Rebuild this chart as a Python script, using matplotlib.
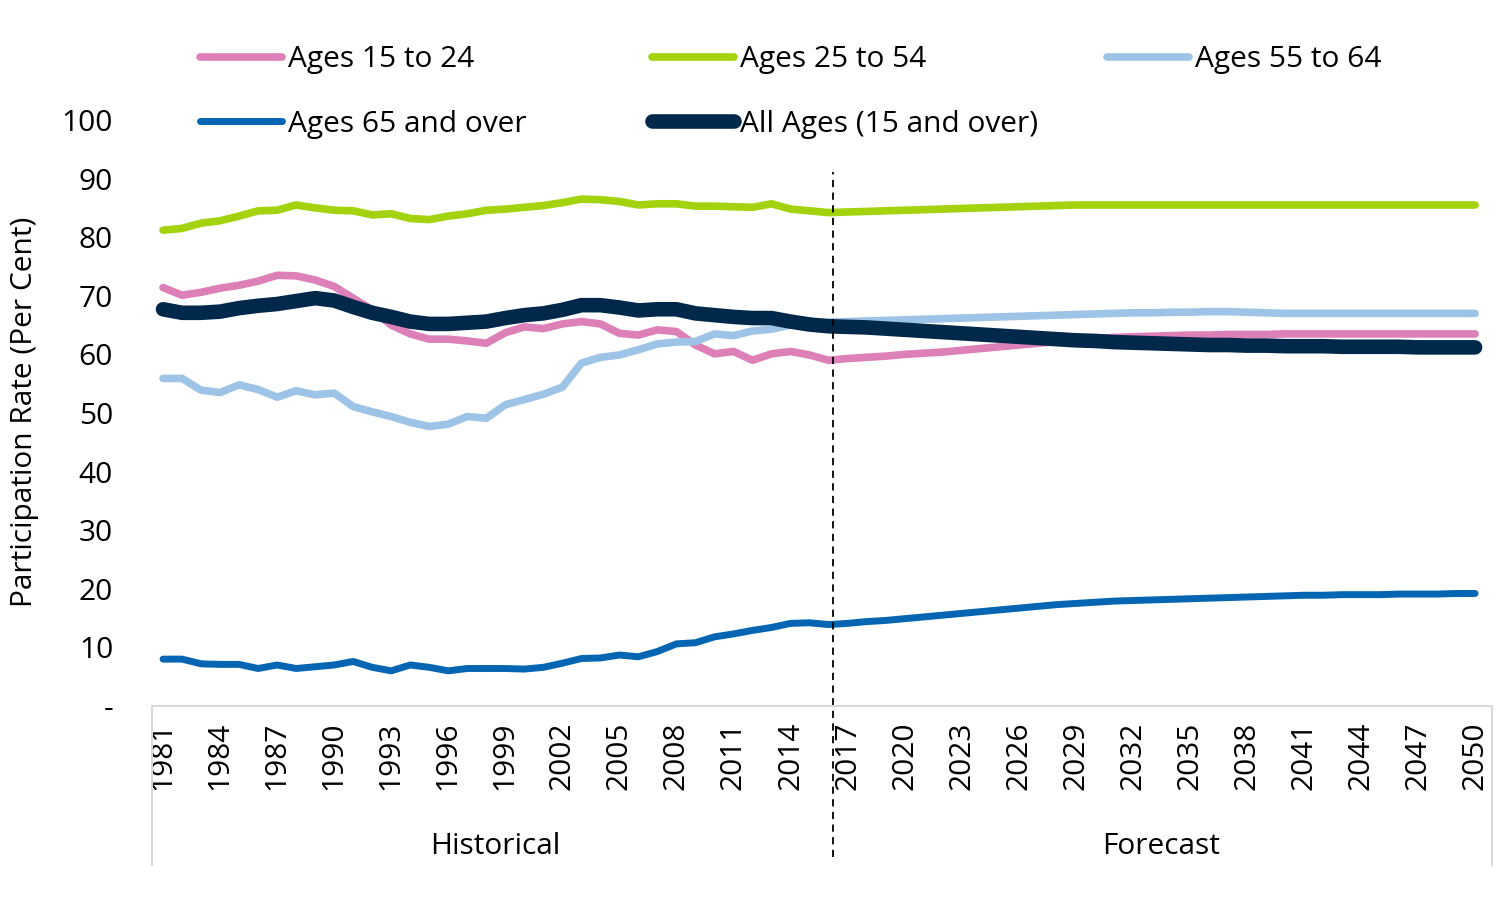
import numpy as np
import matplotlib
matplotlib.use('Agg')
import matplotlib.pyplot as plt

plt.rcParams['font.family'] = ['Open Sans', 'DejaVu Sans']

years = list(range(1981, 2051))

# Participation rates (per cent), historical 1981-2016 and forecast 2017-2050
youth_hist = [71.4, 70.1, 70.6, 71.3, 71.8, 72.5, 73.5, 73.4, 72.7, 71.6, 69.6, 67.6,
              65.0, 63.5, 62.6, 62.6, 62.3, 61.9, 63.7, 64.7, 64.4, 65.2, 65.6, 65.2,
              63.6, 63.3, 64.2, 63.9, 61.6, 60.1, 60.5, 59.0, 60.1, 60.5, 59.9, 59.0]
youth_fcst = [59.3, 59.5, 59.7, 60.0, 60.2, 60.4, 60.7, 61.0, 61.3, 61.6, 61.9, 62.2,
              62.5, 62.7, 62.9, 63.0, 63.1, 63.2, 63.3, 63.3, 63.4, 63.4, 63.4, 63.5,
              63.5, 63.5, 63.5, 63.5, 63.5, 63.5, 63.5, 63.5, 63.5, 63.5]

prime_hist = [81.2, 81.5, 82.4, 82.8, 83.6, 84.5, 84.6, 85.5, 85.0, 84.6, 84.5, 83.8,
              84.0, 83.2, 83.0, 83.6, 84.0, 84.6, 84.8, 85.1, 85.4, 85.9, 86.5, 86.4,
              86.1, 85.5, 85.7, 85.7, 85.3, 85.3, 85.2, 85.1, 85.7, 84.8, 84.5, 84.2]
prime_fcst = [84.3, 84.4, 84.5, 84.6, 84.7, 84.8, 84.9, 85.0, 85.1, 85.2, 85.3, 85.4,
              85.5, 85.5, 85.5, 85.5, 85.5, 85.5, 85.5, 85.5, 85.5, 85.5, 85.5, 85.5,
              85.5, 85.5, 85.5, 85.5, 85.5, 85.5, 85.5, 85.5, 85.5, 85.5]

older_hist = [55.9, 55.9, 53.9, 53.5, 54.8, 54.0, 52.7, 53.8, 53.1, 53.4, 51.1, 50.2,
              49.4, 48.4, 47.7, 48.1, 49.4, 49.1, 51.4, 52.3, 53.2, 54.4, 58.5, 59.5,
              59.9, 60.8, 61.8, 62.1, 62.2, 63.5, 63.2, 64.0, 64.3, 65.0, 65.4, 65.5]
older_fcst = [65.6, 65.7, 65.8, 65.9, 66.0, 66.1, 66.2, 66.3, 66.4, 66.5, 66.6, 66.7,
              66.8, 66.9, 67.0, 67.1, 67.1, 67.2, 67.2, 67.3, 67.3, 67.2, 67.1, 67.0,
              67.0, 67.0, 67.0, 67.0, 67.0, 67.0, 67.0, 67.0, 67.0, 67.0]

senior_hist = [8.0, 8.0, 7.2, 7.1, 7.1, 6.4, 7.0, 6.4, 6.7, 7.0, 7.6, 6.6,
               6.0, 7.0, 6.6, 6.0, 6.4, 6.4, 6.4, 6.3, 6.6, 7.3, 8.1, 8.2,
               8.7, 8.4, 9.3, 10.6, 10.8, 11.8, 12.3, 12.9, 13.4, 14.1, 14.2, 13.9]
senior_fcst = [14.1, 14.4, 14.6, 14.9, 15.2, 15.5, 15.8, 16.1, 16.4, 16.7, 17.0, 17.3,
               17.5, 17.7, 17.9, 18.0, 18.1, 18.2, 18.3, 18.4, 18.5, 18.6, 18.7, 18.8,
               18.9, 18.9, 19.0, 19.0, 19.0, 19.1, 19.1, 19.1, 19.2, 19.2]

all_hist = [67.7, 67.1, 67.1, 67.3, 67.9, 68.3, 68.6, 69.1, 69.6, 69.2, 68.1, 67.1,
            66.4, 65.6, 65.2, 65.2, 65.4, 65.6, 66.2, 66.7, 67.0, 67.6, 68.4, 68.4,
            68.0, 67.5, 67.7, 67.7, 67.0, 66.7, 66.4, 66.2, 66.2, 65.6, 65.1, 64.8]
all_fcst = [64.7, 64.6, 64.4, 64.2, 64.0, 63.8, 63.6, 63.4, 63.2, 63.0, 62.8, 62.6,
            62.4, 62.3, 62.1, 62.0, 61.9, 61.8, 61.7, 61.6, 61.6, 61.5, 61.5, 61.4,
            61.4, 61.4, 61.3, 61.3, 61.3, 61.3, 61.2, 61.2, 61.2, 61.2]

series = [
    ('Ages 15 to 24', youth_hist + youth_fcst, '#de80b8', 5.5),
    ('Ages 25 to 54', prime_hist + prime_fcst, '#a2d30c', 5.5),
    ('Ages 55 to 64', older_hist + older_fcst, '#9dc3e6', 5.5),
    ('Ages 65 and over', senior_hist + senior_fcst, '#0465b3', 5.0),
    ('All Ages (15 and over)', all_hist + all_fcst, '#00284a', 10.5),
]

n_hist = len(youth_hist)
fs = 21.5

fig = plt.figure(figsize=(15, 8.97), dpi=100)
ax = fig.add_axes([152 / 1500, 1 - 706 / 897, (1492 - 152) / 1500, 586 / 897])

x = np.arange(len(years))
lines = {}
for name, vals, col, lw in series:
    ln, = ax.plot(x, vals, color=col, lw=lw, solid_capstyle='round',
                  solid_joinstyle='round', label=name)
    lines[name] = ln

ax.set_xlim(-0.58, 69.89)
ax.set_ylim(0, 100)
for s in ['top', 'right', 'left']:
    ax.spines[s].set_visible(False)
ax.spines['bottom'].set_color('#d9d9d9')
ax.spines['bottom'].set_linewidth(1.5)

ax.set_yticks(range(0, 101, 10))
ax.set_yticklabels(['-'] + [str(v) for v in range(10, 101, 10)])
ax.tick_params(axis='y', length=0, pad=28, labelsize=fs)
ax.set_xticks(x[::3])
ax.set_xticklabels([str(y) for y in years[::3]], rotation=90)
ax.tick_params(axis='x', length=0, pad=11, labelsize=fs)

fig.text(25 / 1500, 1 - 412 / 897, 'Participation Rate (Per Cent)', rotation=90,
         ha='center', va='center', fontsize=fs)

# group labels under the year axis
trans = ax.get_xaxis_transform()
ax.text((n_hist - 1) / 2, -0.2406, 'Historical', transform=trans, ha='center',
        va='center', fontsize=fs)
ax.text((n_hist + len(years) - 1) / 2, -0.2406, 'Forecast', transform=trans,
        ha='center', va='center', fontsize=fs)
for xa in [0, 1]:
    ax.plot([xa, xa], [0, -0.271], transform=ax.transAxes, clip_on=False,
            color='#d9d9d9', lw=1.5)

# dashed line at the last historical year
ax.axvline(n_hist - 0.75, ymin=-0.258, ymax=0.911, clip_on=False, color='black',
           lw=1.3, ls=(0, (4, 3)))

# legend, one block per column
cols = [
    (200, ['Ages 15 to 24', 'Ages 65 and over']),
    (652, ['Ages 25 to 54', 'All Ages (15 and over)']),
    (1107, ['Ages 55 to 64']),
]
for xpx, names in cols:
    leg = fig.legend([lines[n] for n in names], names, loc='upper left',
                     bbox_to_anchor=(xpx / 1500, 1 - 45 / 897), frameon=False,
                     fontsize=fs, handlelength=2.75, handletextpad=0.2,
                     borderpad=0, borderaxespad=0, labelspacing=1.2)

fig.savefig('out.png', dpi=100)
